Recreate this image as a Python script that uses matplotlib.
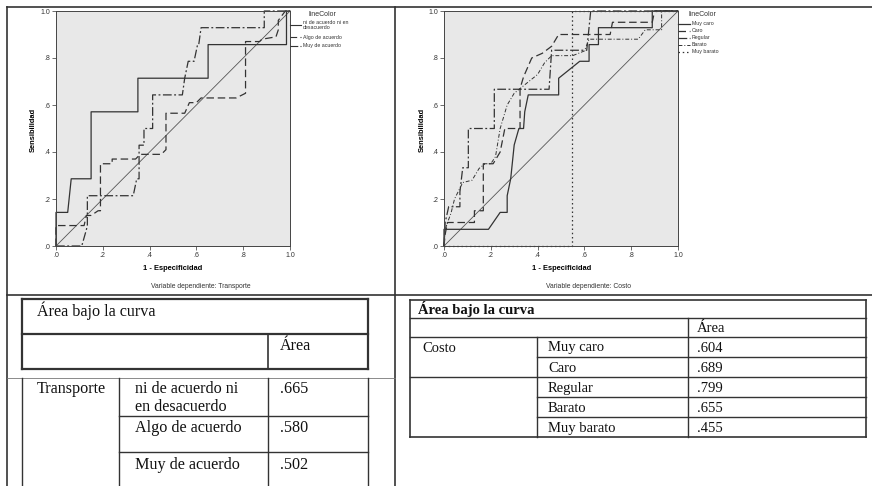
import numpy as np
import matplotlib
matplotlib.use('Agg')
import matplotlib.pyplot as plt
from matplotlib.lines import Line2D

W, H = 872, 486

# ---- curvas ROC: Transporte ----
trans_labels = ['ni de acuerdo ni en\ndesacuerdo', 'Algo de acuerdo', 'Muy de acuerdo']
ni_x = [0, 0, 0.05, 0.065, 0.15, 0.15, 0.35, 0.35, 0.65, 0.65, 0.985, 0.985, 1.0]
ni_y = [0, 0.143, 0.143, 0.286, 0.286, 0.571, 0.571, 0.714, 0.714, 0.857, 0.857, 1.0, 1.0]
algo_x = [0, 0, 0.12, 0.13, 0.15, 0.18, 0.19, 0.19, 0.24, 0.24, 0.34, 0.36, 0.45, 0.47, 0.47,
          0.55, 0.57, 0.60, 0.62, 0.77, 0.80, 0.81, 0.81, 0.87, 0.88, 0.94, 0.95, 0.95, 0.98, 1.0]
algo_y = [0, 0.087, 0.087, 0.13, 0.13, 0.15, 0.15, 0.35, 0.35, 0.37, 0.37, 0.39, 0.39, 0.41, 0.565,
          0.565, 0.61, 0.61, 0.63, 0.63, 0.645, 0.65, 0.87, 0.87, 0.88, 0.89, 0.92, 0.96, 1.0, 1.0]
muy_x = [0, 0.11, 0.13, 0.134, 0.134, 0.33, 0.345, 0.355, 0.355, 0.376, 0.376, 0.413, 0.413,
         0.54, 0.55, 0.565, 0.59, 0.605, 0.61, 0.62, 0.89, 0.89, 1.0]
muy_y = [0, 0, 0.07, 0.09, 0.214, 0.214, 0.286, 0.286, 0.429, 0.429, 0.5, 0.5, 0.643,
         0.643, 0.714, 0.786, 0.786, 0.857, 0.857, 0.929, 0.929, 1.0, 1.0]

# ---- curvas ROC: Costo ----
costo_labels = ['Muy caro', 'Caro', 'Regular', 'Barato', 'Muy barato']
mcaro_x = [0, 0, 0.19, 0.24, 0.27, 0.27, 0.285, 0.30, 0.32, 0.34, 0.345, 0.36, 0.49, 0.49,
           0.58, 0.62, 0.62, 0.66, 0.66, 0.89, 0.89, 1.0]
mcaro_y = [0, 0.071, 0.071, 0.143, 0.143, 0.214, 0.286, 0.43, 0.5, 0.5, 0.571, 0.643, 0.643, 0.714,
           0.786, 0.786, 0.857, 0.857, 0.929, 0.929, 1.0, 1.0]
caro_x = [0, 0.005, 0.015, 0.13, 0.13, 0.168, 0.168, 0.21, 0.24, 0.26, 0.325, 0.325, 0.34, 0.375,
          0.42, 0.46, 0.49, 0.71, 0.72, 0.89, 0.90, 1.0]
caro_y = [0, 0.05, 0.1, 0.1, 0.15, 0.15, 0.35, 0.35, 0.40, 0.5, 0.5, 0.67, 0.72, 0.8,
          0.82, 0.85, 0.9, 0.9, 0.952, 0.952, 1.0, 1.0]
reg_x = [0, 0.005, 0.02, 0.068, 0.068, 0.08, 0.104, 0.104, 0.215, 0.215, 0.449, 0.46, 0.61, 0.627, 1.0]
reg_y = [0, 0.1, 0.167, 0.167, 0.23, 0.333, 0.333, 0.5, 0.5, 0.667, 0.667, 0.833, 0.833, 1.0, 1.0]
bar_x = [0, 0.005, 0.015, 0.03, 0.045, 0.08, 0.12, 0.15, 0.175, 0.2, 0.22, 0.24, 0.27, 0.3, 0.35,
         0.4, 0.43, 0.46, 0.55, 0.6, 0.62, 0.83, 0.86, 0.93, 0.93, 1.0]
bar_y = [0, 0.07, 0.1, 0.14, 0.2, 0.27, 0.28, 0.33, 0.35, 0.35, 0.38, 0.5, 0.6, 0.65, 0.69,
         0.73, 0.78, 0.81, 0.81, 0.83, 0.88, 0.88, 0.92, 0.92, 1.0, 1.0]
mbar_x = [0, 0.548, 0.548, 1.0]
mbar_y = [0, 0, 1.0, 1.0]

# ---- tablas ----
trans_areas = ['.665', '.580', '.502']
costo_areas = ['.604', '.689', '.799', '.655', '.455']

ticks = [0, 0.2, 0.4, 0.6, 0.8, 1.0]
tick_labels = ['.0', '.2', '.4', '.6', '.8', '1.0']

LC = '#333333'
DASH = (0, (6, 3))
DASHDOT = (0, (7, 2, 1.5, 2))
THINDD = (0, (4, 2, 1, 2))
DOT = (0, (1.2, 2.2))

plt.rcParams['font.family'] = ['Liberation Sans', 'DejaVu Sans']

fig = plt.figure(figsize=(W / 100, H / 100), dpi=100)
fig.patch.set_facecolor('white')


def fx(x):
    return x / W


def fy(y):
    return 1 - y / H


def hline(x0, x1, y, lw=0.8, c='#333333'):
    fig.add_artist(Line2D([fx(x0), fx(x1)], [fy(y), fy(y)], transform=fig.transFigure, color=c, lw=lw))


def vline(x, y0, y1, lw=0.8, c='#333333'):
    fig.add_artist(Line2D([fx(x), fx(x)], [fy(y0), fy(y1)], transform=fig.transFigure, color=c, lw=lw))


def ftext(x, y, s, **kw):
    kw.setdefault('va', 'center')
    fig.text(fx(x), fy(y), s, transform=fig.transFigure, **kw)


def roc_axes(left_px, curves, styles, varname, lab_x, title_x, sens_x):
    ax = fig.add_axes([fx(left_px), fy(246), 234 / W, 235 / H])
    ax.set_facecolor('#e8e8e8')
    ax.plot([0, 1], [0, 1], color='#555555', lw=0.6)
    for (cx, cy), (ls, lw) in zip(curves, styles):
        ax.plot(cx, cy, color=LC, lw=lw, linestyle=ls, clip_on=False)
    ax.set_xlim(0, 1)
    ax.set_ylim(0, 1)
    ax.set_xticks(ticks)
    ax.set_xticklabels(tick_labels)
    ax.set_yticks(ticks)
    ax.set_yticklabels(tick_labels)
    ax.tick_params(direction='out', length=3, width=0.5, labelsize=5, pad=1, colors='#333333')
    for sp in ax.spines.values():
        sp.set_color('#444444')
        sp.set_linewidth(0.7)
    # titulos de ejes
    ftext(sens_x, 130, 'Sensibilidad', rotation=90, ha='center', fontsize=5.4, fontweight='bold')
    ftext(lab_x, 268, '1 - Especificidad', ha='center', fontsize=5.4, fontweight='bold')
    ftext(title_x, 286, 'Variable dependiente: ' + varname, ha='center', fontsize=4.9, color='#333333')
    return ax


trans_styles = [('-', 0.9), (DASH, 0.9), (DASHDOT, 0.9)]
costo_styles = [('-', 0.9), (DASH, 0.9), (DASHDOT, 0.9), (THINDD, 0.7), (DOT, 0.9)]

# paneles de graficos
roc_axes(56, [(ni_x, ni_y), (algo_x, algo_y), (muy_x, muy_y)],
         trans_styles, 'Transporte', 173, 201, 33)
roc_axes(444, [(mcaro_x, mcaro_y), (caro_x, caro_y), (reg_x, reg_y), (bar_x, bar_y), (mbar_x, mbar_y)],
         costo_styles, 'Costo', 562, 588, 422)

# leyendas
ftext(308, 14, 'lineColor', fontsize=5, color='#333333')
leg_y = [25, 37, 46]
txt_y = [25, 37, 45]
for lab, (ls, lw), yl, yt in zip(trans_labels, trans_styles, leg_y, txt_y):
    fig.add_artist(Line2D([fx(290), fx(301)], [fy(yl), fy(yl)], transform=fig.transFigure,
                          color=LC, lw=0.8, linestyle=ls))
    ftext(303, yt, lab, fontsize=3.8, color='#333333', linespacing=0.95)

ftext(688, 15, 'lineColor', fontsize=5, color='#333333')
for i, (lab, (ls, lw)) in enumerate(zip(costo_labels, costo_styles)):
    yy = 24 + i * 7
    fig.add_artist(Line2D([fx(678), fx(690)], [fy(yy), fy(yy)], transform=fig.transFigure,
                          color=LC, lw=lw, linestyle=ls))
    ftext(692, yy, lab, fontsize=3.8, color='#333333')

# marcos de los paneles
hline(7, W, 7, lw=1.2)
hline(7, W, 295, lw=1.2)
vline(7, 7, H, lw=1.2)
vline(395, 7, H, lw=1.2)

# ---- tabla izquierda ----
SERL = dict(family=['Liberation Serif', 'DejaVu Serif'], fontsize=11.6, color='#111111')
SERR = dict(family=['Liberation Serif', 'DejaVu Serif'], fontsize=10.5, color='#111111')
hline(22, 368, 299, lw=1.6)
hline(22, 368, 334, lw=1.6)
hline(22, 368, 369, lw=1.6)
vline(22, 299, 369, lw=1.6)
vline(368, 299, 369, lw=1.6)
vline(268, 334, 369, lw=1.2)
ftext(37, 311, 'Área bajo la curva', **SERL)
ftext(280, 346, 'Área', **SERL)

hline(7, 395, 378, lw=0.6, c='#777777')
for xv in [22, 119, 268, 368]:
    vline(xv, 378, H, lw=1.0)
hline(119, 368, 416, lw=1.0)
hline(119, 368, 452, lw=1.0)
ftext(37, 389, 'Transporte', **SERL)
row_y = [389, 428, 465]
for lab, val, yy in zip(trans_labels, trans_areas, row_y):
    if lab.startswith('ni de'):
        ftext(135, 389, 'ni de acuerdo ni', **SERL)
        ftext(135, 407, 'en desacuerdo', **SERL)
    else:
        ftext(135, yy, lab, **SERL)
    ftext(280, yy, val, **SERL)

# ---- tabla derecha ----
RX0, RX1, RC1, RC2 = 410, 866, 537, 688
hline(RX0, RX1, 300, lw=1.2)
hline(RX0, RX1, 318, lw=1.0)
hline(RX0, RX1, 337, lw=1.0)
hline(RX0, RX1, 437, lw=1.2)
vline(RX0, 300, 437, lw=1.2)
vline(RX1, 300, 437, lw=1.2)
vline(RC2, 318, 437, lw=1.0)
vline(RC1, 337, 437, lw=1.0)
for i in range(1, len(costo_labels)):
    yy = 337 + i * 20
    hline(RX0 if i == 2 else RC1, RX1, yy, lw=1.0)
ftext(418, 309, 'Área bajo la curva', fontweight='bold', **SERR)
ftext(697, 328, 'Área', **SERR)
ftext(422, 348, 'Costo', **SERR)
for i, (lab, val) in enumerate(zip(costo_labels, costo_areas)):
    yy = 348 + i * 20
    ftext(548, yy, lab, **SERR)
    ftext(697, yy, val, **SERR)

fig.savefig('out.png', dpi=100, facecolor='white')
